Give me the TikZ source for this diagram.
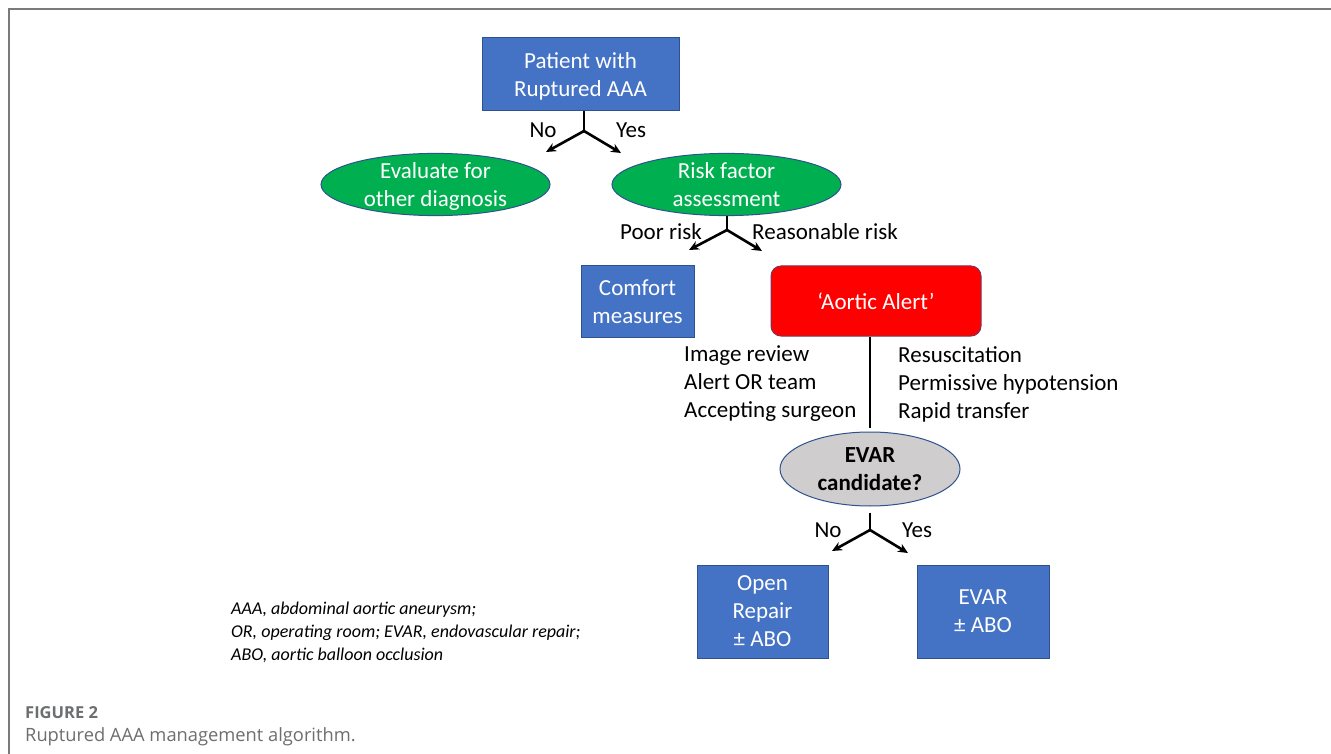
\documentclass[tikz,border=0pt]{standalone}
\usepackage{fontspec}
\setmainfont{Carlito}
\newfontfamily\capfont{Open Sans}
\usetikzlibrary{shapes.geometric,arrows.meta}
\definecolor{boxblue}{HTML}{4472C4}
\definecolor{edgeblue}{HTML}{2F528F}
\definecolor{okgreen}{HTML}{00B050}
\definecolor{alertred}{HTML}{FF0000}
\definecolor{qgray}{HTML}{CFCDCD}
\definecolor{framegray}{HTML}{7A7A7A}
\definecolor{capgray}{HTML}{6D6E70}
\tikzset{
  base/.style={align=center, inner sep=0pt, font=\fontsize{23}{28}\selectfont},
  shapebase/.style={base, text depth=0pt, line width=1pt},
  bluebox/.style={shapebase, rectangle, fill=boxblue, draw=edgeblue, text=white},
  greenell/.style={shapebase, ellipse, fill=okgreen, draw=edgeblue, text=white},
  alertbox/.style={shapebase, rectangle, rounded corners=10pt, fill=alertred, draw=edgeblue!60!red, text=white},
  qell/.style={shapebase, ellipse, fill=qgray, draw=edgeblue, text=black, font=\fontsize{23}{28}\selectfont\bfseries},
  lbl/.style={base, text=black},
  stem/.style={line width=2.6pt, black},
  arr/.style={line width=2.6pt, black, -{Stealth[length=10pt,width=9pt]}},
}
\begin{document}
\begin{tikzpicture}[x=1pt,y=-1pt]
\useasboundingbox (0,0) rectangle (1331,754);
\fill[white] (0,0) rectangle (1331,754);
% frame
\draw[framegray, line width=2pt] (9,754) -- (9,9) -- (1331,9);

% nodes
\node[bluebox, minimum width=197pt, minimum height=73pt] (top) at (580.5,74.5) {Patient with\\Ruptured AAA};
\node[greenell, minimum width=229pt, minimum height=49pt] (other) at (435.5,184.5) {Evaluate for\\other diagnosis};
\node[greenell, minimum width=229pt, minimum height=49pt] (risk) at (726.5,184.5) {Risk factor\\assessment};
\node[bluebox, minimum width=113pt, minimum height=71pt] (comfort) at (637.5,301.5) {Comfort\\measures};
\node[alertbox, minimum width=210pt, minimum height=70pt] (alert) at (876,301) {‘Aortic Alert’};
\node[qell, minimum width=180pt, minimum height=74pt] (evar) at (870,469) {EVAR\\candidate?};
\node[bluebox, minimum width=131pt, minimum height=93pt] (open) at (762.5,611.5) {Open\\Repair\\± ABO};
\node[bluebox, minimum width=132pt, minimum height=93pt] (evarbox) at (983,611.5) {EVAR\\± ABO};

% branch 1
\coordinate (b1) at (584,131);
\coordinate (b1l) at (546,152);
\coordinate (b1r) at (621,153);
\draw[stem] (top.south -| b1) -- (b1);
\draw[arr] (b1) -- (b1l);
\draw[arr] (b1) -- (b1r);
\node[lbl] (no1) at (543,130) {No};
\node[lbl] (yes1) at (631,130) {Yes};

% branch 2
\coordinate (b2) at (727,230);
\coordinate (b2l) at (689,250);
\coordinate (b2r) at (762,251);
\draw[stem] (risk.south -| b2) -- (b2);
\draw[arr] (b2) -- (b2l);
\draw[arr] (b2) -- (b2r);
\node[lbl] (poor) at (661,232) {Poor risk};
\node[lbl] (reas) at (825,232) {Reasonable risk};

% alert to evar
\draw[stem] (alert.south -| evar.north) -- ([yshift=4pt]evar.north);
\node[lbl, align=left, anchor=west] (lefttxt) at (684,384) {Image review\\Alert OR team\\Accepting surgeon};
\node[lbl, align=left, anchor=west] (righttxt) at (898,384) {Resuscitation\\Permissive hypotension\\Rapid transfer};

% branch 3
\coordinate (b3) at (870,530);
\coordinate (b3l) at (832,551);
\coordinate (b3r) at (908,553);
\draw[stem] ([yshift=-6pt]evar.south) -- (b3);
\draw[arr] (b3) -- (b3l);
\draw[arr] (b3) -- (b3r);
\node[lbl] (no3) at (828,530) {No};
\node[lbl] (yes3) at (917,530) {Yes};

% footnote
\node[anchor=west, align=left, inner sep=0pt, font=\fontsize{18}{23}\selectfont\itshape] (foot) at (231,632)
  {AAA, abdominal aortic aneurysm;\\OR, operating room; EVAR, endovascular repair;\\ABO, aortic balloon occlusion};

% caption
\node[anchor=west, inner sep=0pt, text=capgray, font=\capfont\fontsize{16.5}{18}\selectfont\bfseries] (fig) at (25,713) {FIGURE 2};
\node[anchor=west, inner sep=0pt, text=capgray, font=\capfont\fontsize{18.3}{21}\selectfont] (cap) at (25,737) {Ruptured AAA management algorithm.};
\end{tikzpicture}
\end{document}
